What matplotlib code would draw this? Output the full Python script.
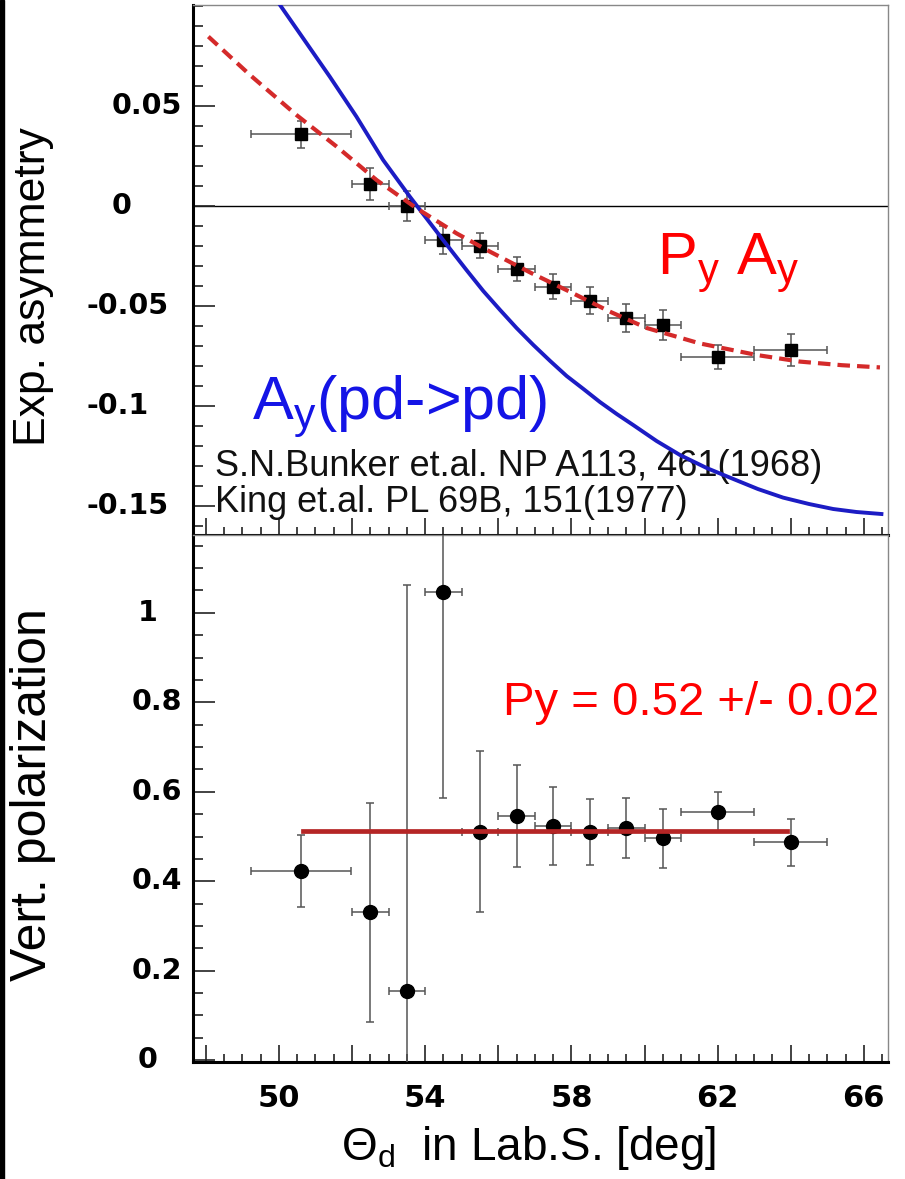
import numpy as np
import matplotlib.pyplot as plt
from matplotlib import transforms
from matplotlib.patches import Rectangle
from matplotlib.ticker import MultipleLocator

plt.rcParams['font.family'] = ['Liberation Sans', 'DejaVu Sans']
plt.rcParams['mathtext.fontset'] = 'custom'
plt.rcParams['mathtext.rm'] = 'Liberation Sans'
plt.rcParams['mathtext.it'] = 'Liberation Sans:italic'

# scattering angle bins (deg) and their half widths
theta = [50.6, 52.5, 53.5, 54.5, 55.5, 56.5, 57.5, 58.5, 59.5, 60.5, 62.0, 64.0]
theta_err = [1.37, 0.5, 0.5, 0.5, 0.5, 0.5, 0.5, 0.5, 0.5, 0.5, 1.0, 1.0]

# measured asymmetry (top panel)
asym = [0.0358, 0.0108, 0.0002, -0.0170, -0.0198, -0.0317, -0.0403, -0.0473,
        -0.0558, -0.0595, -0.0753, -0.0720]
asym_err = [0.0067, 0.0080, 0.0075, 0.0070, 0.0064, 0.0060, 0.0064, 0.0069,
            0.0070, 0.0075, 0.0060, 0.0080]

# vertical polarization (bottom panel)
pol = [0.4235, 0.3305, 0.1546, 1.047, 0.5106, 0.5457, 0.524, 0.5106,
       0.5196, 0.4958, 0.5553, 0.487]
pol_err = [0.080, 0.244, 0.907, 0.460, 0.180, 0.1135, 0.0875, 0.074,
           0.067, 0.066, 0.045, 0.053]

# A_y(pd->pd) reference curve
ay_x = [50.03, 50.57, 51.39, 52.12, 52.85, 53.58, 54.49, 55.13, 55.59, 56.05,
        56.50, 56.96, 57.42, 57.87, 58.33, 58.78, 59.24, 59.69, 60.33, 60.97,
        61.70, 62.43, 63.10, 63.79, 64.50, 65.16, 65.80, 66.48]
ay_y = [0.1005, 0.0863, 0.0647, 0.0447, 0.0230, 0.0047, -0.0170, -0.0320,
        -0.0425, -0.0520, -0.0610, -0.0695, -0.0775, -0.0850, -0.0915,
        -0.0980, -0.1040, -0.1095, -0.1175, -0.1245, -0.1310, -0.1365,
        -0.1415, -0.1458, -0.1490, -0.1515, -0.1530, -0.1540]

# P_y * A_y curve
pyay_x = [48.07, 49.21, 50.48, 51.58, 52.67, 53.77, 54.86, 55.77, 56.90, 58.05,
          59.05, 60.06, 61.51, 63.07, 64.25, 65.40, 66.44]
pyay_y = [0.0847, 0.0655, 0.0455, 0.0297, 0.0130, -0.0012, -0.0137, -0.0228,
          -0.0335, -0.0437, -0.0528, -0.0610, -0.0687, -0.0745, -0.0778,
          -0.0796, -0.0807]

# constant fit of the polarization
fit_x = [50.65, 63.9]
fit_level = 0.512

asym_ticks = [-0.15, -0.1, -0.05, 0, 0.05]
asym_labels = ['-0.15', '-0.1', '-0.05', '0', '0.05']
pol_ticks = [0, 0.2, 0.4, 0.6, 0.8, 1]
pol_labels = ['0', '0.2', '0.4', '0.6', '0.8', '1']
theta_labels = [50, 54, 58, 62, 66]

W, H = 905, 1179
fig = plt.figure(figsize=(W / 100, H / 100), dpi=100)
ax1 = fig.add_axes([193 / W, 1 - 535 / H, 695 / W, 530 / H])
ax2 = fig.add_axes([193 / W, 1 - 1062 / H, 695 / W, 527 / H], sharex=ax1)


def style(ax):
    for s in ['left', 'bottom']:
        ax.spines[s].set_linewidth(2.2)
        ax.spines[s].set_color('black')
    for s in ['top', 'right']:
        ax.spines[s].set_linewidth(1.0)
        ax.spines[s].set_color('#888888')
    ax.tick_params(which='both', direction='in', left=True, bottom=True,
                   top=False, right=False, width=1.2, color='#222222')
    ax.tick_params(axis='y', which='major', length=16)
    ax.tick_params(axis='y', which='minor', length=7.5)
    ax.tick_params(axis='x', which='major', length=12)
    ax.tick_params(axis='x', which='minor', length=6)


style(ax1)
style(ax2)

ax1.set_xlim(47.65, 66.66)
ax1.set_ylim(-0.1645, 0.1005)
ax2.set_ylim(-0.004, 1.174)

major_x = np.arange(48, 67, 2)
ax2.set_xticks(major_x, labels=[str(v) if v in theta_labels else '' for v in major_x],
               fontsize=22, fontweight='bold', family='DejaVu Sans')
ax2.xaxis.set_minor_locator(MultipleLocator(0.5))
ax2.tick_params(axis='x', pad=16)
ax1.tick_params(labelbottom=False)

ax1.set_yticks(asym_ticks)
ax1.set_yticklabels([])
ax1.yaxis.set_minor_locator(MultipleLocator(0.01))
ax2.set_yticks(pol_ticks)
ax2.set_yticklabels([])
ax2.yaxis.set_minor_locator(MultipleLocator(0.05))

# y tick labels, placed by hand like in the original
tr1 = transforms.blended_transform_factory(fig.transFigure, ax1.transData)
for v, lab in zip(asym_ticks, asym_labels):
    xp = 86 if lab.startswith('-') else 112
    ax1.text(xp / W, v, lab, transform=tr1, ha='left', va='center',
             fontsize=20.5, fontweight='bold', family='DejaVu Sans')
tr2 = transforms.blended_transform_factory(fig.transFigure, ax2.transData)
for v, lab in zip(pol_ticks, pol_labels):
    xp = 138 if len(lab) == 1 else 132
    ax2.text(xp / W, v, lab, transform=tr2, ha='left', va='center',
             fontsize=20.5, fontweight='bold', family='DejaVu Sans')

# --- top panel ---
ax1.axhline(0, color='black', lw=1.0, zorder=1)
ax1.errorbar(theta, asym, xerr=theta_err, yerr=asym_err, fmt='s', ms=9,
             color='black', ecolor='#555555', elinewidth=1.1, capsize=3,
             capthick=1.1, zorder=3)
ax1.plot(ay_x, ay_y, color='#1c1cc4', lw=2.8, zorder=4)
ax1.plot(pyay_x, pyay_y, color='#d42a2a', lw=3.0, ls=(0, (3.0, 1.7)), zorder=5)

ax1.text(60.34, -0.0345, r'P$_{\mathrm{y}}$ A$_{\mathrm{y}}$', color='red',
         fontsize=43, ha='left', va='baseline')
ax1.text(49.26, -0.1065, r'A$_{\mathrm{y}}$(pd->pd)', color='#1414e6',
         fontsize=44, ha='left', va='baseline')
ax1.text(48.24, -0.135, 'S.N.Bunker et.al. NP A113, 461(1968)', color='#111111',
         fontsize=26, ha='left', va='baseline')
ax1.text(48.24, -0.153, 'King et.al. PL 69B, 151(1977)', color='#111111',
         fontsize=26, ha='left', va='baseline')

# --- bottom panel ---
ax2.errorbar(theta, pol, xerr=theta_err, yerr=pol_err, fmt='o', ms=10,
             color='black', ecolor='#555555', elinewidth=1.1, capsize=3,
             capthick=1.1, zorder=3)
ax2.plot(fit_x, [fit_level, fit_level], color='#b52525', lw=3.4, zorder=5)
ax2.text(56.13, 0.771, 'Py = 0.52 +/- 0.02', color='red', fontsize=34,
         ha='left', va='baseline')

# axis titles
fig.text(33 / W, 1 - 287 / H, 'Exp. asymmetry', rotation=90, ha='center',
         va='center', fontsize=32)
fig.text(33 / W, 1 - 795 / H, 'Vert. polarization', rotation=90, ha='center',
         va='center', fontsize=36)
fig.text(529 / W, 1 - 1160 / H, r'$\mathrm{\Theta_{d}}$  in Lab.S. [deg]',
         ha='center', va='baseline', fontsize=33)

# dark strip on the left edge of the original screenshot
fig.add_artist(Rectangle((0, 0), 4 / W, 1, transform=fig.transFigure,
                         color='black'))

fig.savefig('out.png', dpi=100)
